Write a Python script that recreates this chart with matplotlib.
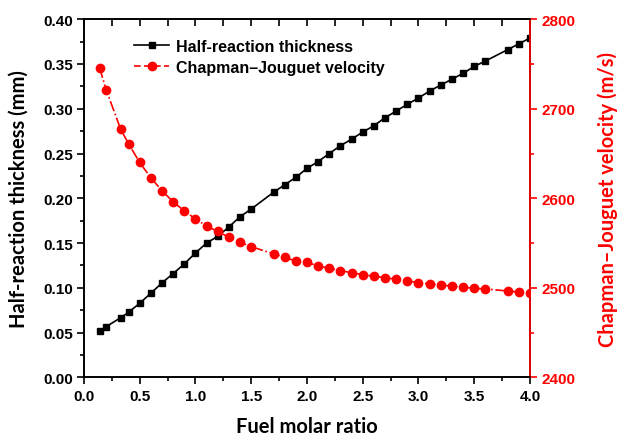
import matplotlib
matplotlib.use("Agg")
import matplotlib.pyplot as plt
from matplotlib.ticker import MultipleLocator, FormatStrFormatter
from matplotlib.lines import Line2D

ratio = [0.14, 0.2, 0.33, 0.4, 0.5, 0.6, 0.7, 0.8, 0.9, 1.0, 1.1, 1.2, 1.3, 1.4, 1.5,
         1.7, 1.8, 1.9, 2.0, 2.1, 2.2, 2.3, 2.4, 2.5, 2.6, 2.7, 2.8, 2.9, 3.0,
         3.1, 3.2, 3.3, 3.4, 3.5, 3.6, 3.8, 3.9, 4.0]
thickness = [0.052, 0.0567, 0.0667, 0.0727, 0.0828, 0.094, 0.1055, 0.116, 0.1267, 0.139,
             0.150, 0.1576, 0.168, 0.1795, 0.188, 0.2067, 0.215, 0.2234, 0.2334, 0.241,
             0.250, 0.2587, 0.266, 0.274, 0.281, 0.290, 0.2974, 0.305, 0.312, 0.3198,
             0.3265, 0.333, 0.3395, 0.3473, 0.3533, 0.366, 0.3725, 0.379]
velocity = [2746, 2721, 2677, 2661, 2640, 2623, 2608.5, 2596, 2586, 2577, 2569, 2563,
            2556.5, 2551, 2546, 2538, 2534, 2530, 2528.5, 2524.4, 2521.9, 2519.2, 2517,
            2514.7, 2513, 2511.4, 2509.6, 2507.7, 2505.8, 2504.3, 2503.2, 2502, 2500.7,
            2499.5, 2498.8, 2496.5, 2495.4, 2494.6]

xlabel = "Fuel molar ratio"
ylabel_left = "Half-reaction thickness (mm)"
ylabel_right = "Chapman\u2013Jouguet velocity (m/s)"
legend_labels = ["Half-reaction thickness", "Chapman\u2013Jouguet velocity"]

RED = "#ff0000"
tick_font = {"family": "Liberation Sans", "weight": "bold", "size": 11}
label_font = dict(family="Lato", weight="bold", size=14.5)

fig = plt.figure(figsize=(6.17, 4.39), dpi=100)
ax = fig.add_axes([0.136, 0.138, 0.723, 0.816])
ax2 = ax.twinx()

ax.plot(ratio, thickness, "-", color="black", marker="s", markersize=4.5, linewidth=1.2, zorder=3)
ax2.plot(ratio, velocity, "-.", color=RED, marker="o", markersize=6, linewidth=1.2, zorder=3)

ax.set_xlim(0, 4.0)
ax.set_ylim(0, 0.40)
ax2.set_ylim(2400, 2800)

ax.xaxis.set_major_locator(MultipleLocator(0.5))
ax.xaxis.set_minor_locator(MultipleLocator(0.25))
ax.yaxis.set_major_locator(MultipleLocator(0.05))
ax.yaxis.set_minor_locator(MultipleLocator(0.025))
ax.yaxis.set_major_formatter(FormatStrFormatter("%.2f"))
ax.xaxis.set_major_formatter(FormatStrFormatter("%.1f"))
ax2.yaxis.set_major_locator(MultipleLocator(100))
ax2.yaxis.set_minor_locator(MultipleLocator(50))

ax.tick_params(axis="both", which="major", direction="out", length=5, width=1.2, pad=3)
ax.tick_params(axis="both", which="minor", direction="out", length=3, width=1.2)
ax2.tick_params(axis="y", which="major", direction="out", length=5, width=1.2, colors=RED, pad=3)
ax2.tick_params(axis="y", which="minor", direction="out", length=3, width=1.2, colors=RED)

for lab in ax.get_xticklabels() + ax.get_yticklabels():
    lab.set_fontproperties(matplotlib.font_manager.FontProperties(**tick_font))
for lab in ax2.get_yticklabels():
    lab.set_fontproperties(matplotlib.font_manager.FontProperties(**tick_font))
    lab.set_color(RED)

for s in ax.spines.values():
    s.set_linewidth(1.2)
for s in ax2.spines.values():
    s.set_linewidth(1.2)
ax2.spines["right"].set_color(RED)

# top ticks drawn inward
ax_top = ax.secondary_xaxis("top")
ax_top.xaxis.set_major_locator(MultipleLocator(0.5))
ax_top.xaxis.set_minor_locator(MultipleLocator(0.25))
ax_top.tick_params(which="both", direction="in", length=5, width=1.2, labeltop=False)
ax_top.spines["top"].set_visible(False)
ax.tick_params(axis="x", which="both", top=False)

ax.set_xlabel(xlabel, fontdict=label_font, labelpad=10)
ax.set_ylabel(ylabel_left, fontdict=label_font, labelpad=10)
ax2.set_ylabel(ylabel_right, fontdict=label_font, color=RED, labelpad=16)

h1 = Line2D([], [], color="black", marker="s", markersize=4.5, linewidth=1.2)
h2 = Line2D([], [], color=RED, marker="o", markersize=6, linewidth=1.2, linestyle=(0, (4, 2)))
ax.legend([h1, h2], legend_labels, loc="upper left", bbox_to_anchor=(0.08, 0.985),
          frameon=False, prop=dict(family="Liberation Sans", weight="bold", size=11.5),
          handlelength=2.2, handletextpad=0.4, labelspacing=0.35)

fig.savefig("out.png", dpi=100)
